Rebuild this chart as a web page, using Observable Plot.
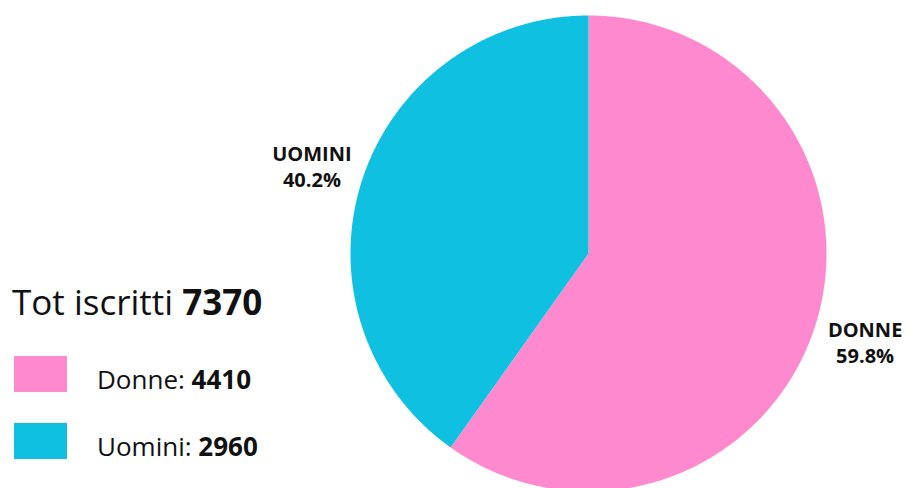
<!DOCTYPE html>
<html>
<head>
<meta charset="utf-8">
<script src="https://cdn.jsdelivr.net/npm/d3@7"></script>
<script src="https://cdn.jsdelivr.net/npm/@observablehq/plot@0.6"></script>
<style>
  html, body { margin: 0; padding: 0; background: #fff; }
  #wrap { position: relative; width: 910px; height: 488px; overflow: hidden; }
  #chart { position: absolute; left: 0; top: 0; }
  .lg { position: absolute; font-family: "Open Sans", sans-serif; color: #111; white-space: nowrap; }
  .lg b { font-weight: 700; }
  .sw { position: absolute; width: 53px; height: 36px; }
</style>
</head>
<body>
<div id="wrap"><div id="chart"></div></div>
<script>
// ---- data ----
const categories = ["Donne", "Uomini"];
const values = [4410, 2960];
const labelNames = ["DONNE", "UOMINI"];
const colors = ["#fe89cf", "#10c0e0"];
const totalLabel = "Tot iscritti";

const total = d3.sum(values);
const data = categories.map((c, i) => ({cat: c, value: values[i], name: labelNames[i]}));

// pie layout (clockwise from 12 o'clock)
const arcs = d3.pie().sort(null).value(d => d.value)(data);

// slices as planar polygons on the unit circle (y up)
const pt = a => [Math.sin(a), Math.cos(a)];
const slices = arcs.map(a => {
  const n = Math.max(2, Math.ceil((a.endAngle - a.startAngle) / (Math.PI / 360)));
  const ring = [[0, 0]];
  for (let k = 0; k <= n; ++k) ring.push(pt(a.startAngle + (a.endAngle - a.startAngle) * k / n));
  ring.push([0, 0]);
  return {type: "Feature", properties: {cat: a.data.cat}, geometry: {type: "Polygon", coordinates: [ring]}};
});

const labelR = 1.22;
const labels = arcs.map(a => {
  const m = (a.startAngle + a.endAngle) / 2;
  const [x, y] = pt(m);
  return {x: x * labelR, y: y * labelR,
          text: `${a.data.name}\n${(a.data.value / total * 100).toFixed(1)}%`};
});

const chart = Plot.plot({
  width: 910,
  height: 488,
  margin: 0,
  style: {background: "transparent"},
  projection: {type: () => d3.geoIdentity().reflectY(true).scale(238).translate([588, 253])},
  color: {type: "ordinal", domain: categories, range: colors},
  marks: [
    Plot.geo(slices, {fill: d => d.properties.cat, stroke: "none"}),
    Plot.text(labels, {x: "x", y: "y", text: "text", fontSize: 20, fontWeight: 700,
      lineHeight: 1.3, fontFamily: "Open Sans", fill: "#111", textAnchor: "middle"})
  ]
});
document.getElementById("chart").appendChild(chart);

// ---- legend (HTML overlay using the plot's color scale) ----
const colorScale = chart.scale("color");
const wrap = document.getElementById("wrap");
function addDiv(cls, style, html) {
  const d = document.createElement("div");
  d.className = cls;
  Object.assign(d.style, style);
  if (html) d.innerHTML = html;
  wrap.appendChild(d);
}
addDiv("lg", {left: "12px", top: "284px", fontSize: "35px", lineHeight: "35px"},
  `${totalLabel} <b>${total}</b>`);
const tops = [356, 423];
categories.forEach((c, i) => {
  const color = colorScale.range[colorScale.domain.indexOf(c)];
  addDiv("sw", {left: "14px", top: tops[i] + "px", background: color});
  addDiv("lg", {left: "97px", top: (tops[i] + 10) + "px", fontSize: "26px", lineHeight: "26px"},
    `${c}: <b>${values[i]}</b>`);
});
</script>
</body>
</html>
